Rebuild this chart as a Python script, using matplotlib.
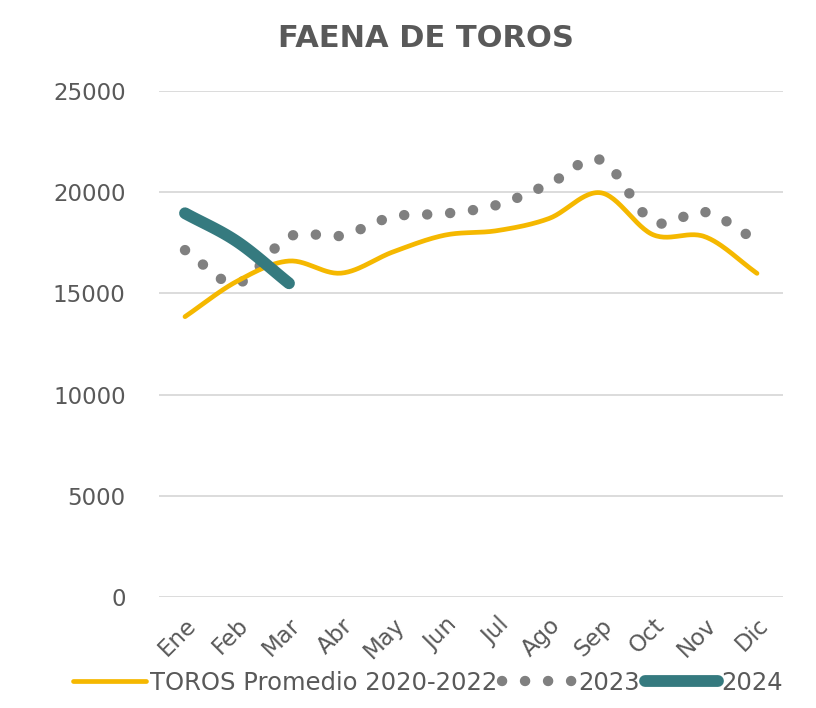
import matplotlib
matplotlib.use('Agg')
import matplotlib.pyplot as plt
import numpy as np

# datos
meses = ["Ene", "Feb", "Mar", "Abr", "May", "Jun", "Jul", "Ago", "Sep", "Oct", "Nov", "Dic"]
promedio = [13850, 15600, 16600, 16000, 17050, 17880, 18100, 18700, 19970, 17900, 17800, 15990]
anio_2023 = [17140, 15500, 17800, 17850, 18790, 18940, 19370, 20400, 21590, 18550, 19020, 17590]
anio_2024 = [18960, 17560, 15500]

GRIS = '#595959'


def suavizar(y, n=30):
    # curva tipo catmull-rom (como la linea suavizada de Excel)
    y = np.asarray(y, dtype=float)
    x = np.arange(len(y), dtype=float)
    px = np.concatenate([[2 * x[0] - x[1]], x, [2 * x[-1] - x[-2]]])
    py = np.concatenate([[2 * y[0] - y[1]], y, [2 * y[-1] - y[-2]]])
    xs, ys = [], []
    t = np.linspace(0, 1, n)
    for i in range(1, len(px) - 2):
        for arr, out in ((px, xs), (py, ys)):
            p0, p1, p2, p3 = arr[i - 1], arr[i], arr[i + 1], arr[i + 2]
            out.append(0.5 * ((2 * p1) + (-p0 + p2) * t
                              + (2 * p0 - 5 * p1 + 4 * p2 - p3) * t ** 2
                              + (-p0 + 3 * p1 - 3 * p2 + p3) * t ** 3))
    return np.concatenate(xs), np.concatenate(ys)


fig = plt.figure(figsize=(8.16, 7.08), dpi=100)
ax = fig.add_axes([159 / 816, 1 - 597 / 708, (783 - 159) / 816, (597 - 91) / 708])

x1, y1 = suavizar(promedio)
x2, y2 = suavizar(anio_2023)
x3, y3 = suavizar(anio_2024)

ax.plot(x1, y1, color='#F5B800', lw=3.4, solid_capstyle='round',
        label='TOROS Promedio 2020-2022', zorder=3)
ax.plot(x2, y2, color='#808080', lw=7.5, linestyle=(0, (0.01, 2.2)),
        dash_capstyle='round', label='2023', zorder=2)
ax.plot(x3, y3, color='#357A7F', lw=8.5, solid_capstyle='round',
        label='2024', zorder=4)

ax.set_xlim(-0.5, 11.5)
ax.set_ylim(0, 25000)
ax.set_yticks(np.arange(0, 25001, 5000))
ax.set_xticks(range(len(meses)))
ax.set_xticklabels(meses, rotation=45, ha='right', va='top', rotation_mode='anchor')
ax.tick_params(axis='both', length=0, labelsize=16.5, labelcolor=GRIS)
ax.tick_params(axis='y', pad=24)
ax.tick_params(axis='x', pad=12)
ax.grid(axis='y', color='#D9D9D9', lw=1.3)
ax.set_axisbelow(True)
for s in ax.spines.values():
    s.set_visible(False)

fig.text(0.522, 0.946, 'FAENA DE TOROS', ha='center', va='center',
         fontsize=22, fontweight='bold', color=GRIS)

leg = fig.legend(loc='lower center', bbox_to_anchor=(0.525, -0.012), ncol=3, frameon=False,
                 fontsize=17.5, handlelength=3.0, handletextpad=0.15, columnspacing=0.2,
                 labelcolor=GRIS)

fig.savefig('out.png', dpi=100)
